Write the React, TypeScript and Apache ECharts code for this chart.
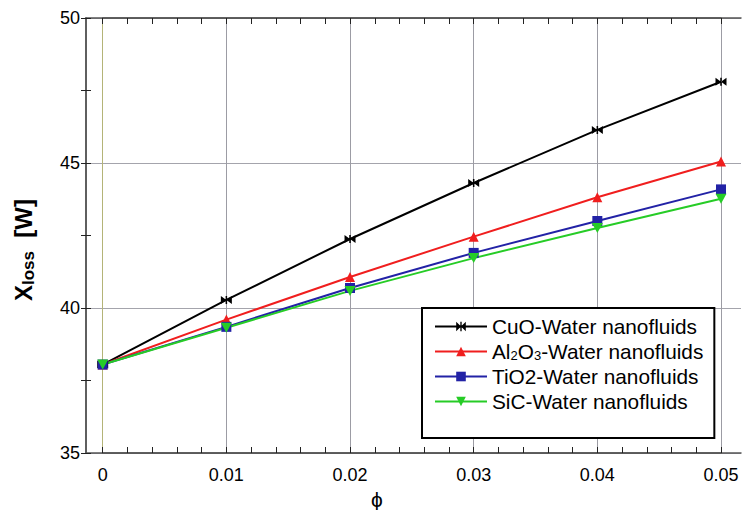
import React, { useEffect, useRef } from "react";
import * as echarts from "echarts";

const phi = [0, 0.01, 0.02, 0.03, 0.04, 0.05];
const cuo = [38.05, 40.28, 42.38, 44.31, 46.14, 47.8];
const al2o3 = [38.05, 39.6, 41.07, 42.46, 43.82, 45.05];
const tio2 = [38.05, 39.35, 40.69, 41.9, 43.0, 44.09];
const sic = [38.05, 39.32, 40.59, 41.72, 42.76, 43.77];
const names = [
  "CuO-Water nanofluids",
  "Al2O3-Water nanofluids",
  "TiO2-Water nanofluids",
  "SiC-Water nanofluids",
];
const yTicks = { min: 35, max: 50, interval: 5 };

const FONT = "'Liberation Sans', Arial, sans-serif";

const pair = (ys: number[]) => phi.map((x, i) => [x, ys[i]]);

export default function App() {
  const ref = useRef<HTMLDivElement>(null);
  useEffect(() => {
    document.body.style.margin = "0";
    const chart = echarts.init(ref.current!, null, { renderer: "svg" });
    const frame = "#555555";
    const tickStyle = { color: "#222", width: 1 };
    const option: any = {
      animation: false,
      backgroundColor: "#ffffff",
      grid: [
        { left: 86, right: 2, top: 18, bottom: 57, containLabel: false, outerBoundsMode: "none" },
        { left: 102.7, right: 22, top: 18, bottom: 57, containLabel: false, outerBoundsMode: "none" },
      ],
      legend: {
        orient: "vertical",
        left: 422,
        top: 308,
        data: names,
        itemWidth: 52,
        itemHeight: 12,
        itemGap: 4,
        padding: [8, 11, 26, 12],
        borderColor: "#000",
        borderWidth: 2,
        backgroundColor: "#fff",
        textStyle: {
          fontFamily: FONT,
          fontSize: 20.8,
          color: "#000",
          lineHeight: 20,
          rich: {
            sub: { fontFamily: FONT, fontSize: 13, verticalAlign: "bottom", lineHeight: 9, color: "#000" },
          },
        },
        formatter: (n: string) =>
          n.startsWith("Al2O3") ? "Al{sub|2}O{sub|3}-Water nanofluids" : n,
      },
      xAxis: [
        {
          gridIndex: 0, type: "value", min: 0, max: 1, position: "bottom",
          axisLine: { show: true, onZero: false, lineStyle: { color: frame, width: 1.5 } },
          axisTick: { show: false }, axisLabel: { show: false }, splitLine: { show: false },
        },
        {
          gridIndex: 0, type: "value", min: 0, max: 1, position: "top",
          axisLine: { show: true, onZero: false, lineStyle: { color: frame, width: 1.5 } },
          axisTick: { show: false }, axisLabel: { show: false }, splitLine: { show: false },
        },
        {
          gridIndex: 1, type: "value", min: 0, max: 0.05, interval: 0.01, position: "bottom",
          axisLine: { show: true, onZero: false, lineStyle: { color: frame, width: 1.5 } },
          axisTick: { show: true, inside: true, length: 6, lineStyle: tickStyle },
          minorTick: { show: true, splitNumber: 5, length: 6, lineStyle: tickStyle },
          splitLine: {
            show: true,
            lineStyle: { color: ["#b4b478", "#9c9ca4", "#9c9ca4", "#9c9ca4", "#9c9ca4", "#9c9ca4"], width: 1 },
          },
          axisLabel: {
            fontFamily: FONT, fontSize: 18, color: "#000", margin: 13,
            formatter: (v: number) => (v === 0 ? "0" : v.toFixed(2)),
          },
          name: "ϕ",
          nameLocation: "middle",
          nameGap: 32,
          nameTextStyle: { fontFamily: FONT, fontSize: 21, color: "#000", padding: [0, 70, 0, 0] },
        },
        {
          gridIndex: 1, type: "value", min: 0, max: 0.05, interval: 0.01, position: "top",
          axisLine: { show: true, onZero: false, lineStyle: { color: frame, width: 1.5 } },
          axisTick: { show: true, inside: true, length: 6, lineStyle: tickStyle },
          minorTick: { show: true, splitNumber: 5, length: 6, lineStyle: tickStyle },
          splitLine: { show: false }, axisLabel: { show: false },
        },
      ],
      yAxis: [
        {
          gridIndex: 0, type: "value", ...yTicks, position: "left",
          axisLine: { show: true, lineStyle: { color: frame, width: 1.5 } },
          axisTick: { show: true, inside: true, length: 5, lineStyle: tickStyle },
          minorTick: { show: true, splitNumber: 2, length: 5, lineStyle: tickStyle },
          splitLine: { show: true, lineStyle: { color: "#a4a4ac", width: 1 } },
          axisLabel: { fontFamily: FONT, fontSize: 18, color: "#000", margin: 6 },
          name: "{b|X}{s|loss}{b|  [W]}",
          nameLocation: "middle",
          nameGap: 49,
          nameRotate: 90,
          nameTextStyle: {
            padding: [0, 29, 0, 0],
            rich: {
              b: { fontFamily: FONT, fontSize: 24, fontWeight: "bold", color: "#000", lineHeight: 28 },
              s: { fontFamily: FONT, fontSize: 17, fontWeight: "bold", color: "#000", verticalAlign: "bottom", lineHeight: 20 },
            },
          },
        },
        {
          gridIndex: 0, type: "value", ...yTicks, position: "right",
          axisLine: { show: true, lineStyle: { color: frame, width: 1.5 } },
          axisTick: { show: true, inside: true, length: 5, lineStyle: tickStyle },
          minorTick: { show: true, splitNumber: 2, length: 5, lineStyle: tickStyle },
          splitLine: { show: false }, axisLabel: { show: false },
        },
        {
          gridIndex: 1, type: "value", ...yTicks, show: false,
        },
      ],
      series: [
        {
          name: names[0], type: "line", xAxisIndex: 2, yAxisIndex: 2, data: pair(cuo),
          symbol: "path://M0,0 L5,3.5 L0,7 Z M10,0 L5,3.5 L10,7 Z M4.3,0 L5.7,0 L5.7,7 L4.3,7 Z",
          symbolSize: [11, 8], showAllSymbol: true,
          lineStyle: { color: "#000", width: 2 }, itemStyle: { color: "#000" },
        },
        {
          name: names[1], type: "line", xAxisIndex: 2, yAxisIndex: 2, data: pair(al2o3),
          symbol: "triangle", symbolSize: 10,
          lineStyle: { color: "#f01e1e", width: 2 }, itemStyle: { color: "#f01e1e" },
        },
        {
          name: names[2], type: "line", xAxisIndex: 2, yAxisIndex: 2, data: pair(tio2),
          symbol: "rect", symbolSize: 10,
          lineStyle: { color: "#2222a6", width: 2 }, itemStyle: { color: "#2222a6" },
        },
        {
          name: names[3], type: "line", xAxisIndex: 2, yAxisIndex: 2, data: pair(sic),
          symbol: "path://M0,0 L10,0 L5,9 Z", symbolSize: [11, 10],
          lineStyle: { color: "#26cc26", width: 2 }, itemStyle: { color: "#26cc26" },
        },
      ],
    };
    chart.setOption(option);
    return () => chart.dispose();
  }, []);
  return <div ref={ref} style={{ width: 743, height: 510 }} />;
}
